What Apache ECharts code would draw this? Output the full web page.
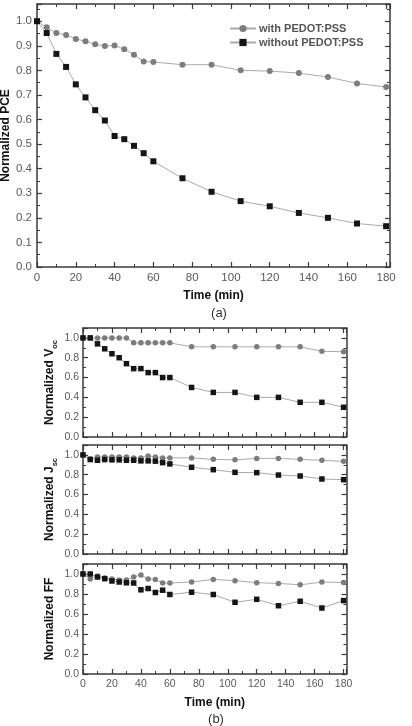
<!DOCTYPE html>
<html>
<head>
<meta charset="utf-8">
<script src="https://cdn.jsdelivr.net/npm/echarts@6/dist/echarts.min.js"></script>
<style>
    html,body{margin:0;padding:0;background:#fff;}
    #chart{width:412px;height:726px;}
</style>
</head>
<body>
<div id="chart"></div>
<script>
// time points (min)
const times=[0,5,10,15,20,25,30,35,40,45,50,55,60,75,90,105,120,135,150,165,180];
const seriesNames=['with PEDOT:PSS','without PEDOT:PSS'];

// (a) normalized PCE
const pceWith=[1.0,0.975,0.952,0.944,0.928,0.918,0.906,0.899,0.901,0.886,0.864,0.836,0.834,0.823,0.823,0.80,0.797,0.789,0.773,0.747,0.732];
const pceWithout=[1.0,0.952,0.867,0.814,0.743,0.69,0.638,0.596,0.533,0.52,0.493,0.463,0.43,0.361,0.306,0.268,0.247,0.22,0.20,0.177,0.166];

// (b) normalized Voc / Jsc / FF
const vocWith=[1.0,1.0,1.0,1.0,1.0,1.0,1.0,0.95,0.95,0.95,0.95,0.95,0.95,0.91,0.91,0.91,0.91,0.91,0.91,0.865,0.86];
const vocWithout=[1.0,1.0,0.94,0.89,0.84,0.80,0.74,0.69,0.69,0.65,0.65,0.60,0.60,0.50,0.45,0.45,0.40,0.40,0.35,0.35,0.30];
const jscWith=[1.0,0.96,0.98,0.98,0.98,0.98,0.98,0.97,0.97,0.99,0.98,0.97,0.97,0.97,0.955,0.95,0.965,0.965,0.955,0.945,0.935];
const jscWithout=[1.0,0.953,0.946,0.953,0.95,0.95,0.946,0.946,0.94,0.94,0.937,0.922,0.909,0.875,0.851,0.824,0.821,0.797,0.787,0.757,0.75];
const ffWith=[1.0,0.95,0.98,0.96,0.95,0.94,0.94,0.97,0.99,0.95,0.945,0.91,0.91,0.92,0.946,0.933,0.913,0.906,0.892,0.919,0.916];
const ffWithout=[1.0,1.0,0.97,0.953,0.93,0.92,0.912,0.91,0.842,0.855,0.815,0.838,0.795,0.818,0.795,0.717,0.747,0.683,0.727,0.66,0.734];

const FONT="'Liberation Sans', Arial, sans-serif";
const axisCol='#3a3a3a';
const labelCol='#5a5a5a';
const circleCol='#7d7d7d';
const squareCol='#151515';
const lineCol='#ababab';

// fixed plot boxes, no auto shrinking
const grids=[
    {left:37, top:4,   width:353,   height:263, outerBoundsMode:'none'},
    {left:83, top:328, width:263.5, height:109, outerBoundsMode:'none'},
    {left:83, top:445, width:263.5, height:109, outerBoundsMode:'none'},
    {left:83, top:564, width:263.5, height:110, outerBoundsMode:'none'},
];

const tickStyle={
    axisLine:{show:true, onZero:false, lineStyle:{color:axisCol, width:1.5}},
    axisTick:{show:true, inside:true, length:5, lineStyle:{color:axisCol, width:1.2}},
    minorTick:{show:true, splitNumber:2, length:3, lineStyle:{color:axisCol, width:1}},
    splitLine:{show:false},
};

const xAxes=[];
const yAxes=[];
grids.forEach((g,i)=>{
    const isA=(i===0);
    const showX=(i===0 || i===3);
    // bottom x
    xAxes.push({
        type:'value', gridIndex:i, position:'bottom', min:0, max:182, interval:20,
        ...tickStyle,
        axisLabel:{show:showX, color:labelCol, fontFamily:FONT, fontSize:isA?11.5:10.5, margin:5,
            formatter:(v)=>(v>180 ? '' : String(v))},
        name:showX ? 'Time (min)' : '',
        nameLocation:'middle', nameGap:23, nameMoveOverlap:false,
        nameTextStyle:{fontFamily:FONT, fontWeight:'bold', fontSize:12, color:'#111'},
    });
    // mirrored top x
    xAxes.push({
        type:'value', gridIndex:i, position:'top', min:0, max:182, interval:20,
        ...tickStyle, axisLabel:{show:false},
    });
    const yMax=isA ? 1.07 : 1.1;
    const yInt=isA ? 0.1 : 0.2;
    yAxes.push({
        type:'value', gridIndex:i, position:'left', min:0, max:yMax, interval:yInt,
        ...tickStyle,
        axisLabel:{color:labelCol, fontFamily:FONT, fontSize:isA?11.5:10.5, margin:isA?5:4,
            formatter:(v)=>(v>1.0001 ? '' : v.toFixed(1))},
        nameLocation:'middle', nameRotate:90, nameGap:isA?24:24, nameMoveOverlap:false,
    });
    yAxes.push({
        type:'value', gridIndex:i, position:'right', min:0, max:yMax, interval:yInt,
        ...tickStyle, axisLabel:{show:false},
    });
});

// y titles with subscripts
const subRich={
    b:{fontFamily:FONT, fontWeight:'bold', fontSize:12, color:'#111', lineHeight:18, verticalAlign:'middle'},
    s:{fontFamily:FONT, fontWeight:'bold', fontSize:7.5, color:'#111', lineHeight:8, verticalAlign:'bottom'},
};
const plainRich={
    b:{fontFamily:FONT, fontWeight:'bold', fontSize:12, color:'#111', lineHeight:14},
};
yAxes[0].name='{b|Normalized PCE}';
yAxes[2].name='{b|Normalized V}{s|oc}';
yAxes[4].name='{b|Normalized J}{s|sc}';
yAxes[6].name='{b|Normalized FF}';
yAxes[0].nameTextStyle={rich:plainRich};
[2,4,6].forEach((k)=>{ yAxes[k].nameTextStyle={rich:subRich}; });

const pair=(arr)=>times.map((t,i)=>[t, arr[i]]);

const mkSeries=(grid, withArr, withoutArr)=>{
    const small=(grid>0);
    return [
        {
            name:seriesNames[0], type:'line', xAxisIndex:grid*2, yAxisIndex:grid*2,
            data:pair(withArr), symbol:'circle', symbolSize:small?5.5:6,
            itemStyle:{color:circleCol}, lineStyle:{color:lineCol, width:1},
            z:2, animation:false,
        },
        {
            name:seriesNames[1], type:'line', xAxisIndex:grid*2, yAxisIndex:grid*2,
            data:pair(withoutArr), symbol:'rect', symbolSize:small?5.5:6,
            itemStyle:{color:squareCol}, lineStyle:{color:lineCol, width:1},
            z:3, animation:false,
        },
    ];
};

const option={
    backgroundColor:'#fff',
    animation:false,
    grid:grids,
    xAxis:xAxes,
    yAxis:yAxes,
    legend:{
        left:224, top:18, orient:'vertical', itemGap:3,
        itemWidth:26, itemHeight:9,
        data:seriesNames,
        textStyle:{fontFamily:FONT, fontWeight:'bold', fontSize:11, color:'#555', padding:[0,0,0,-2]},
    },
    series:[
        ...mkSeries(0, pceWith, pceWithout),
        ...mkSeries(1, vocWith, vocWithout),
        ...mkSeries(2, jscWith, jscWithout),
        ...mkSeries(3, ffWith, ffWithout),
    ],
    graphic:[
        {type:'text', x:219, y:313, style:{text:'(a)', fontFamily:FONT, fontSize:13, fill:'#333', align:'center', verticalAlign:'middle'}},
        {type:'text', x:216, y:719, style:{text:'(b)', fontFamily:FONT, fontSize:13, fill:'#333', align:'center', verticalAlign:'middle'}},
    ],
};

const chart=echarts.init(document.getElementById('chart'), null, {renderer:'canvas'});
chart.setOption(option);
</script>
</body>
</html>
